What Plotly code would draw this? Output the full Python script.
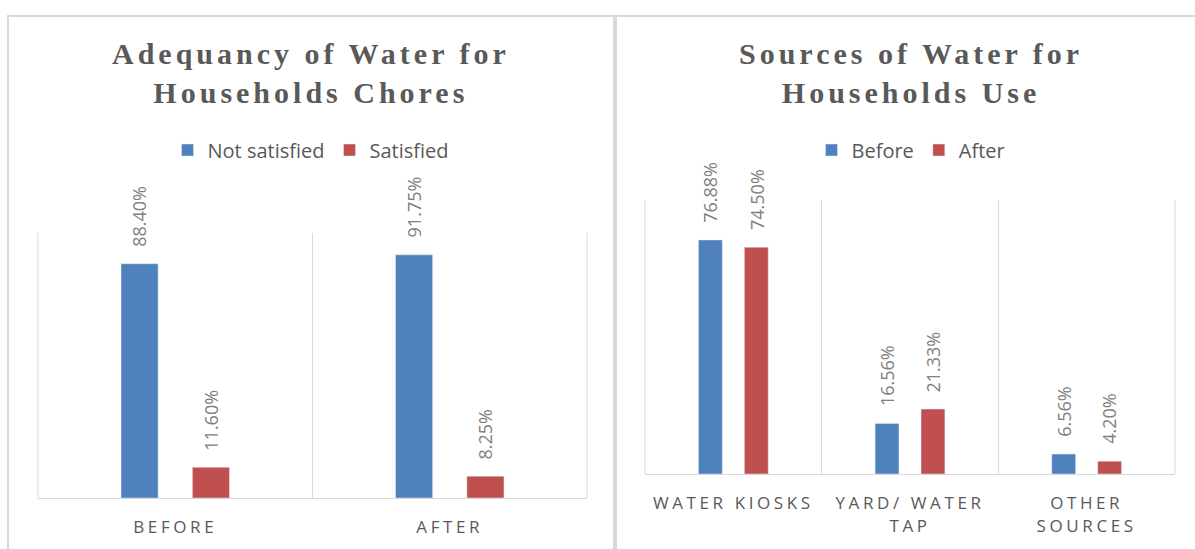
import plotly.graph_objects as go

# ---- data ----
left_categories = ["BEFORE", "AFTER"]
left_not_satisfied = [88.40, 91.75]
left_satisfied = [11.60, 8.25]
left_series_names = ["Not satisfied", "Satisfied"]
left_title = "Adequancy of Water for<br>Households Chores"

right_categories = ["WATER KIOSKS", "YARD/ WATER<br>TAP", "OTHER<br>SOURCES"]
right_before = [76.88, 16.56, 6.56]
right_after = [74.50, 21.33, 4.20]
right_series_names = ["Before", "After"]
right_title = "Sources of Water for<br>Households Use"

BLUE = "#4F81BD"
RED = "#C0504D"
GRAY = "#595959"
LABEL_GRAY = "#808080"
LINE = "#D9D9D9"
W, H = 1195, 549

def px_x(p):
    return p / W

def px_y(p):
    return 1 - p / H

fig = go.Figure()

fig.add_bar(x=left_categories, y=left_not_satisfied, name=left_series_names[0],
            marker_color=BLUE, xaxis="x", yaxis="y", legend="legend")
fig.add_bar(x=left_categories, y=left_satisfied, name=left_series_names[1],
            marker_color=RED, xaxis="x", yaxis="y", legend="legend")
fig.add_bar(x=right_categories, y=right_before, name=right_series_names[0],
            marker_color=BLUE, xaxis="x2", yaxis="y2", legend="legend2")
fig.add_bar(x=right_categories, y=right_after, name=right_series_names[1],
            marker_color=RED, xaxis="x2", yaxis="y2", legend="legend2")

BARGAP = 0.48
BARGROUPGAP = 0.48
slot = (1 - BARGAP) / 2
off = slot / 2

annotations = [
    dict(text=left_title, x=px_x(311), y=px_y(73), xref="paper", yref="paper",
         xanchor="center", yanchor="middle", showarrow=False,
         font=dict(family="Liberation Serif", size=30, color=GRAY, weight="bold")),
    dict(text=right_title, x=px_x(911), y=px_y(73), xref="paper", yref="paper",
         xanchor="center", yanchor="middle", showarrow=False,
         font=dict(family="Liberation Serif", size=30, color=GRAY, weight="bold")),
]

def add_labels(series_list, xref, yref):
    for s_idx, series in enumerate(series_list):
        sign = -1 if s_idx == 0 else 1
        for i, v in enumerate(series):
            annotations.append(dict(
                text=f"{v:.2f}%", x=i + sign * off, y=v, xref=xref, yref=yref,
                xanchor="center", yanchor="bottom", yshift=15, textangle=-90,
                showarrow=False, font=dict(family="Open Sans", size=18, color=LABEL_GRAY)))

add_labels([left_not_satisfied, left_satisfied], "x", "y")
add_labels([right_before, right_after], "x2", "y2")

shapes = [
    dict(type="rect", xref="paper", yref="paper", x0=px_x(8), x1=px_x(614),
         y0=-0.05, y1=px_y(16), line=dict(color=LINE, width=2), layer="below"),
    dict(type="rect", xref="paper", yref="paper", x0=px_x(616), x1=1.05,
         y0=-0.05, y1=px_y(16), line=dict(color=LINE, width=2), layer="below"),
]
# vertical edge lines of each plot area
for xr, yr in (("x domain", "y domain"), ("x2 domain", "y2 domain")):
    for edge in (0, 1):
        shapes.append(dict(type="line", xref=xr, yref=yr, x0=edge, x1=edge, y0=0, y1=1,
                           line=dict(color=LINE, width=1), layer="below"))

xaxis_common = dict(type="category", showgrid=True, gridcolor=LINE, gridwidth=1,
                    tickson="boundaries", ticks="", showline=True, linecolor=LINE,
                    linewidth=1, zeroline=False, ticklabelstandoff=14,
                    tickfont=dict(family="Open Sans", size=17, color=GRAY),
                    fixedrange=True)
yaxis_common = dict(showgrid=False, showticklabels=False, zeroline=False,
                    showline=False, ticks="", fixedrange=True)

fig.update_layout(
    width=W, height=H,
    margin=dict(l=0, r=0, t=0, b=0),
    paper_bgcolor="white", plot_bgcolor="white",
    barmode="group", bargap=BARGAP, bargroupgap=BARGROUPGAP,
    xaxis=dict(domain=[px_x(38), px_x(587)], anchor="y", **xaxis_common),
    yaxis=dict(domain=[px_y(498), px_y(233)], range=[0, 100], anchor="x", **yaxis_common),
    xaxis2=dict(domain=[px_x(645), px_x(1175)], anchor="y2", **xaxis_common),
    yaxis2=dict(domain=[px_y(474), px_y(200)], range=[0, 90], anchor="x2", **yaxis_common),
    legend=dict(orientation="h", x=px_x(311), y=px_y(150), xanchor="center", yanchor="middle",
                font=dict(family="Open Sans", size=20, color=GRAY), bgcolor="rgba(0,0,0,0)"),
    legend2=dict(orientation="h", x=px_x(911), y=px_y(150), xanchor="center", yanchor="middle",
                 font=dict(family="Open Sans", size=20, color=GRAY), bgcolor="rgba(0,0,0,0)"),
    annotations=annotations,
    shapes=shapes,
    showlegend=True,
)

css = ("g.annotation[data-index='0'] text, g.annotation[data-index='1'] text {letter-spacing:4px;}"
       " .xtick text, .x2tick text {letter-spacing:3.6px;}")
post = ("var st=document.createElement('style');st.innerHTML=\"" + css + "\";"
        "document.head.appendChild(st);")

fig.write_html("out.html", post_script=post, config={"displayModeBar": False})
